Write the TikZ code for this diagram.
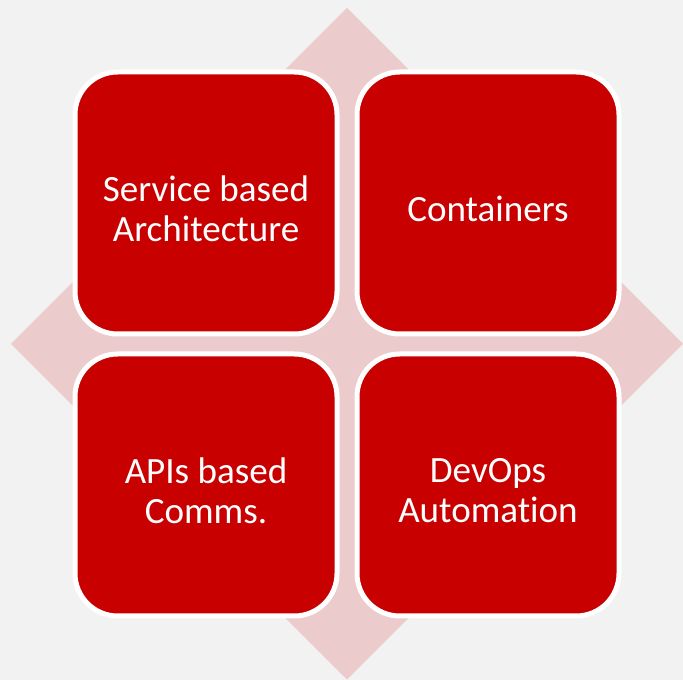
\documentclass[tikz,border=0pt]{standalone}
\usepackage{fontspec}
\setmainfont{Carlito}[Ligatures={NoCommon}]
\definecolor{bgc}{HTML}{F2F2F2}
\definecolor{pinkc}{HTML}{EBCBCB}
\definecolor{redc}{HTML}{C80000}
\tikzset{
  tile/.style={draw=white, line width=3.75pt, fill=redc, rounded corners=32pt,
    minimum width=196.5pt, minimum height=196.5pt, inner sep=0pt},
  tiletext/.style={text=white, align=center, inner sep=0pt,
    font=\fontsize{27.8pt}{30pt}\selectfont},
  backdiamond/.style={fill=pinkc, draw=none}
}
\begin{document}
\begin{tikzpicture}[x=0.75pt,y=-0.75pt]
\fill[bgc] (0,0) rectangle (683,680);
\useasboundingbox (0,0) rectangle (683,680);
\fill[backdiamond] (347,8) -- (683,344) -- (347,679.5) -- (11,344) -- cycle;
\node[tile] (sbaBox) at (206,203) {};
\node[tile] (contBox) at (488,203) {};
\node[tile] (apiBox) at (206,485) {};
\node[tile] (devopsBox) at (488,485) {};
\node[tiletext] (sba) at ([yshift=-4.2pt]sbaBox.center) {Service based\\Architecture};
\node[tiletext] (cont) at ([yshift=-4.2pt]contBox.center) {Containers};
\node[tiletext] (api) at ([yshift=-4.2pt]apiBox.center) {APIs based\\Comms.};
\node[tiletext] (devops) at ([yshift=-4.2pt]devopsBox.center) {DevOps\\Automation};
\end{tikzpicture}
\end{document}
